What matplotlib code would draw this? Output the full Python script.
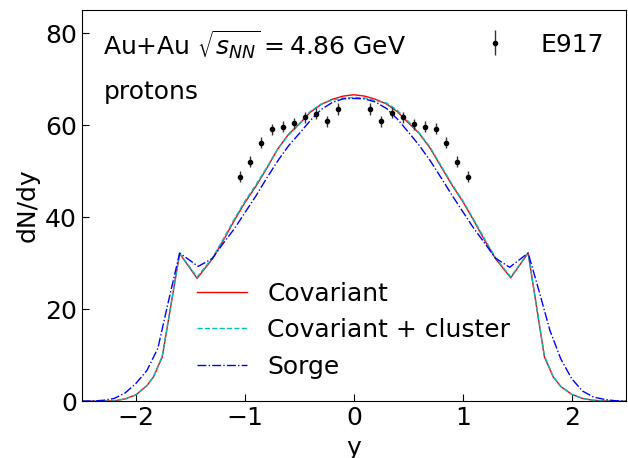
import matplotlib
matplotlib.use("Agg")
import matplotlib.pyplot as plt

# E917 data
y_exp = [-1.05, -0.95, -0.85, -0.75, -0.65, -0.55, -0.45, -0.35, -0.25, -0.15,
         0.15, 0.25, 0.35, 0.45, 0.55, 0.65, 0.75, 0.85, 0.95, 1.05]
dndy_exp = [48.8, 52.0, 56.2, 59.1, 59.6, 60.4, 61.7, 62.5, 60.8, 63.5,
            63.5, 60.8, 62.7, 61.7, 60.2, 59.6, 59.2, 56.2, 52.0, 48.8]
err_exp = [1.2] * 20

# Covariant
y_cov = [-2.5, -2.4, -2.3, -2.2, -2.1, -2.0, -1.9, -1.84, -1.76, -1.6, -1.44, -1.3, -1.2,
         -1.1, -1.0, -0.9, -0.8, -0.7, -0.6, -0.5, -0.4, -0.3, -0.2, -0.1, 0.0,
         0.1, 0.2, 0.3, 0.4, 0.5, 0.6, 0.7, 0.8, 0.9, 1.0, 1.1, 1.2, 1.3, 1.44,
         1.6, 1.75, 1.83, 1.9, 2.0, 2.1, 2.2, 2.3, 2.4, 2.5]
dndy_cov = [0.0, 0.0, 0.02, 0.08, 0.5, 1.4, 3.4, 5.3, 9.6, 32.1, 26.7, 30.9, 34.9,
            39.2, 43.2, 46.7, 50.6, 54.8, 58.0, 60.3, 62.8, 64.5, 65.6, 66.3, 66.6,
            66.3, 65.6, 64.6, 62.9, 60.5, 58.2, 55.0, 51.0, 47.0, 43.4, 39.3, 35.0, 31.0, 26.8,
            32.2, 9.6, 5.3, 3.2, 1.5, 0.6, 0.2, 0.05, 0.0, 0.0]

# Covariant + cluster
dndy_clu = [0.0, 0.0, 0.02, 0.08, 0.5, 1.4, 3.4, 5.3, 9.8, 32.1, 27.0, 31.1, 35.2,
            39.5, 43.5, 47.0, 50.8, 54.8, 57.8, 60.2, 63.0, 64.6, 65.4, 65.9, 66.0,
            65.9, 65.3, 64.8, 63.2, 60.8, 58.3, 55.2, 51.2, 47.2, 43.6, 39.5, 35.3, 31.2, 27.0,
            32.2, 9.8, 5.4, 3.2, 1.5, 0.6, 0.2, 0.05, 0.0, 0.0]

# Sorge
y_sor = [-2.5, -2.4, -2.3, -2.2, -2.1, -2.0, -1.9, -1.8, -1.7, -1.6, -1.43, -1.3, -1.2,
         -1.1, -1.0, -0.9, -0.8, -0.7, -0.6, -0.5, -0.4, -0.3, -0.2, -0.1, 0.0,
         0.1, 0.2, 0.3, 0.4, 0.5, 0.6, 0.7, 0.8, 0.9, 1.0, 1.1, 1.2, 1.3, 1.43,
         1.6, 1.7, 1.8, 1.9, 2.0, 2.1, 2.2, 2.3, 2.4, 2.5]
dndy_sor = [0.0, 0.05, 0.2, 0.6, 1.8, 3.9, 6.7, 11.5, 22.0, 32.2, 29.3, 31.0, 34.3,
            37.4, 41.0, 44.6, 48.5, 52.2, 55.5, 58.2, 61.0, 63.4, 64.9, 65.7, 65.8,
            65.7, 65.0, 63.6, 61.3, 58.5, 55.6, 52.3, 48.6, 44.8, 41.2, 37.6, 34.4, 31.1, 29.1,
            32.2, 24.0, 15.4, 9.2, 4.9, 2.2, 0.9, 0.4, 0.1, 0.0]

fig, ax = plt.subplots(figsize=(6.28, 4.58), dpi=100)
fig.subplots_adjust(left=0.13, right=0.997, bottom=0.124, top=0.978)

l1, = ax.plot(y_cov, dndy_cov, color='r', lw=1, label='Covariant')
l2, = ax.plot(y_cov, dndy_clu, color='c', lw=1, ls='--', label='Covariant + cluster')
l3, = ax.plot(y_sor, dndy_sor, color='b', lw=1, ls='-.', label='Sorge')
eb = ax.errorbar(y_exp, dndy_exp, yerr=err_exp, fmt='o', color='k', ms=3,
                 elinewidth=1, ecolor='0.2', label='E917')

ax.set_xlim(-2.5, 2.5)
ax.set_ylim(0, 85)
ax.set_xticks([-2, -1, 0, 1, 2])
ax.set_yticks([0, 20, 40, 60, 80])
ax.tick_params(direction='in', labelsize=18, length=5)
ax.set_xlabel('y', fontsize=18)
ax.set_ylabel('dN/dy', fontsize=18)

ax.text(0.04, 0.91, r'Au+Au $\sqrt{s_{NN}}=4.86$ GeV', transform=ax.transAxes,
        fontsize=18, va='center')
ax.text(0.04, 0.79, 'protons', transform=ax.transAxes, fontsize=18, va='center')

leg1 = ax.legend(handles=[l1, l2, l3], loc='lower center', frameon=False, fontsize=18)
ax.add_artist(leg1)
ax.legend(handles=[eb], loc='upper right', frameon=False, fontsize=18)

plt.savefig("out.png")
